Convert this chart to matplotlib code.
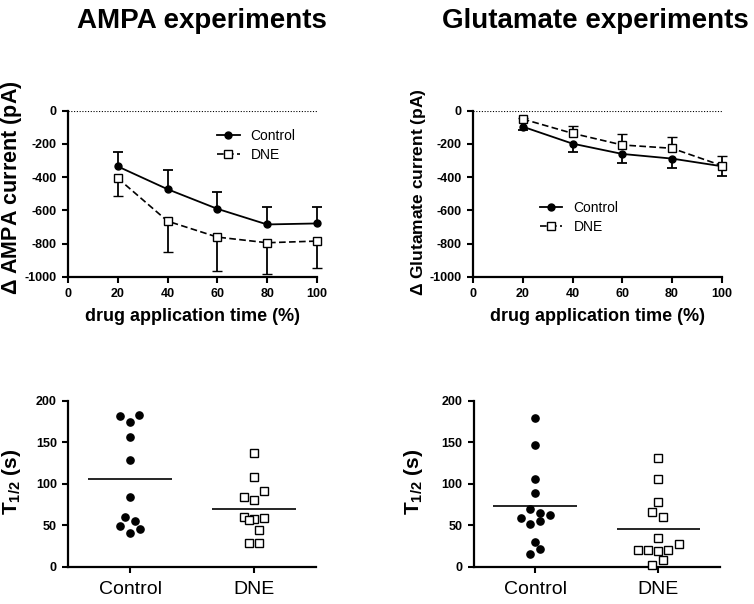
import numpy as np
import matplotlib
matplotlib.use("Agg")
import matplotlib.pyplot as plt

plt.rcParams['font.family'] = ['Liberation Sans', 'DejaVu Sans']
plt.rcParams['mathtext.fontset'] = 'custom'
plt.rcParams['mathtext.rm'] = 'Liberation Sans'
plt.rcParams['mathtext.default'] = 'regular'
plt.rcParams['axes.unicode_minus'] = False

# time course data (% of drug application)
time_pct = [20, 40, 60, 80, 100]

ampa_ctrl = [-335, -472, -590, -684, -678]
ampa_ctrl_err = [85, 114, 103, 106, 100]     # drawn upward
ampa_dne = [-406, -664, -760, -794, -784]
ampa_dne_err = [106, 186, 204, 186, 164]     # drawn downward

glu_ctrl = [-96, -198, -260, -288, -334]
glu_ctrl_err = [20, 52, 56, 58, 56]          # drawn downward
glu_dne = [-50, -136, -206, -226, -330]
glu_dne_err = [8, 44, 64, 66, 56]            # drawn upward

# T1/2 scatter data
groups = ["Control", "DNE"]
ampa_t_ctrl = [181, 183, 174.7, 156.6, 128, 83.5, 59.4, 49.4, 54.6, 45.4, 40.2]
ampa_t_ctrl_jit = [-0.08, 0.075, 0, 0, 0, 0, -0.04, -0.08, 0.04, 0.08, 0]
ampa_t_dne = [137.3, 107.6, 91.2, 84.3, 80.3, 59.4, 57.8, 59, 56.2, 44.6, 29, 29]
ampa_t_dne_jit = [0, 0, 0.083, -0.08, 0, -0.08, 0, 0.083, -0.04, 0.04, -0.04, 0.04]

glu_t_ctrl = [179.5, 146.6, 105.6, 88.8, 69, 65, 58.2, 62.7, 55.4, 51.4, 30.1, 20.9, 15.3]
glu_t_ctrl_jit = [0, 0, 0, 0, -0.04, 0.04, -0.12, 0.12, 0.04, -0.04, 0, 0.04, -0.04]
glu_t_dne = [131.3, 105.6, 77.9, 65.5, 59.4, 34.1, 20.5, 19.7, 18.5, 20.1, 26.9, 7.6, 2.0]
glu_t_dne_jit = [0, 0, 0, -0.049, 0.038, 0, -0.168, -0.084, 0, 0.079, 0.163, 0.038, -0.049]

fig = plt.figure(figsize=(7.54, 6.04), dpi=100)

ax1 = fig.add_axes([0.0902, 0.5414, 0.330, 0.2753])
ax2 = fig.add_axes([0.6273, 0.5414, 0.330, 0.2753])
ax3 = fig.add_axes([0.0902, 0.0618, 0.329, 0.2748])
ax4 = fig.add_axes([0.6283, 0.0618, 0.3267, 0.2748])


def style_axes(ax):
    for s in ['top', 'right']:
        ax.spines[s].set_visible(False)
    for s in ['left', 'bottom']:
        ax.spines[s].set_linewidth(1.6)
    ax.tick_params(width=1.5, length=4.5, labelsize=9, direction='out')


def err_series(ax, x, y, err, up, **kw):
    if up:
        yerr = [np.zeros(len(err)), err]
    else:
        yerr = [err, np.zeros(len(err))]
    line, caps, bars = ax.errorbar(x, y, yerr=yerr, capsize=3.5, ecolor='black',
                                   elinewidth=1.3, capthick=1.3, **kw)
    # hide the cap sitting on the point itself
    if up:
        caps[0].set_visible(False)
    else:
        caps[1].set_visible(False)
    line.set_clip_on(False)
    for c in caps:
        c.set_clip_on(False)
    for b in bars:
        b.set_clip_on(False)
    return line


def time_panel(ax, ctrl, ctrl_err, ctrl_up, dne, dne_err, dne_up, ylabel, ysize,
               ylab_pos, leg_anchor):
    style_axes(ax)
    ax.axhline(0, color='black', lw=0.8, ls=(0, (1, 1.5)))
    h1 = err_series(ax, time_pct, ctrl, ctrl_err, ctrl_up, color='black', lw=1.3,
                    marker='o', ms=5, mfc='black', mec='black', zorder=3)
    h2 = err_series(ax, time_pct, dne, dne_err, dne_up, color='black', lw=1.2,
                    ls=(0, (4, 2)), marker='s', ms=5.5, mfc='white', mec='black',
                    mew=1.0, zorder=4)
    ax.set_xlim(0, 100)
    ax.set_ylim(-1000, 0)
    ax.set_xticks([0, 20, 40, 60, 80, 100])
    ax.set_yticks(np.arange(-1000, 1, 200))
    for lab in ax.get_xticklabels() + ax.get_yticklabels():
        lab.set_fontweight('bold')
    ax.set_xlabel('drug application time (%)', fontsize=13, fontweight='bold', labelpad=6)
    ax.set_ylabel(ylabel, fontsize=ysize, fontweight='bold')
    ax.yaxis.set_label_coords(*ylab_pos)
    ax.legend([h1, h2], ['Control', 'DNE'], loc='upper left', bbox_to_anchor=leg_anchor,
              frameon=False, fontsize=10, handlelength=1.6, handletextpad=0.8,
              borderpad=0, borderaxespad=0, labelspacing=0.35)


time_panel(ax1, ampa_ctrl, ampa_ctrl_err, True, ampa_dne, ampa_dne_err, False,
           r'$\Delta$ AMPA current (pA)', 15.5, (-0.177, 0.538), (0.60, 0.89))
time_panel(ax2, glu_ctrl, glu_ctrl_err, False, glu_dne, glu_dne_err, True,
           r'$\Delta$ Glutamate current (pA)', 12.5, (-0.181, 0.508), (0.27, 0.455))


def scatter_panel(ax, ctrl, ctrl_jit, dne, dne_jit, ylab_pos, half=0.34):
    style_axes(ax)
    ax.plot(0 + np.array(ctrl_jit), ctrl, 'o', ms=5.2, color='black', clip_on=False, zorder=3)
    ax.plot(1 + np.array(dne_jit), dne, 's', ms=5.2, mfc='white', mec='black', mew=1.0,
            clip_on=False, zorder=3)
    for i, vals in enumerate([ctrl, dne]):
        m = np.mean(vals)
        ax.hlines(m, i - half, i + half, color='black', lw=1.2)
    ax.set_xlim(-0.5, 1.5)
    ax.set_ylim(0, 200)
    ax.set_xticks([0, 1])
    ax.set_xticklabels(groups, fontsize=14)
    ax.tick_params(axis='x', pad=6)
    ax.set_yticks([0, 50, 100, 150, 200])
    for lab in ax.get_yticklabels():
        lab.set_fontweight('bold')
    ax.set_ylabel('T$_{1/2}$ (s)', fontsize=15, fontweight='bold')
    ax.yaxis.set_label_coords(*ylab_pos)


scatter_panel(ax3, ampa_t_ctrl, ampa_t_ctrl_jit, ampa_t_dne, ampa_t_dne_jit, (-0.18, 0.513))
scatter_panel(ax4, glu_t_ctrl, glu_t_ctrl_jit, glu_t_dne, glu_t_dne_jit, (-0.198, 0.508))

fig.text(202 / 754, 1 - 28 / 604, 'AMPA experiments', fontsize=20, fontweight='bold',
         ha='center', va='baseline')
fig.text(595 / 754, 1 - 28 / 604, 'Glutamate experiments', fontsize=20, fontweight='bold',
         ha='center', va='baseline')

fig.savefig('out.png', dpi=100)
